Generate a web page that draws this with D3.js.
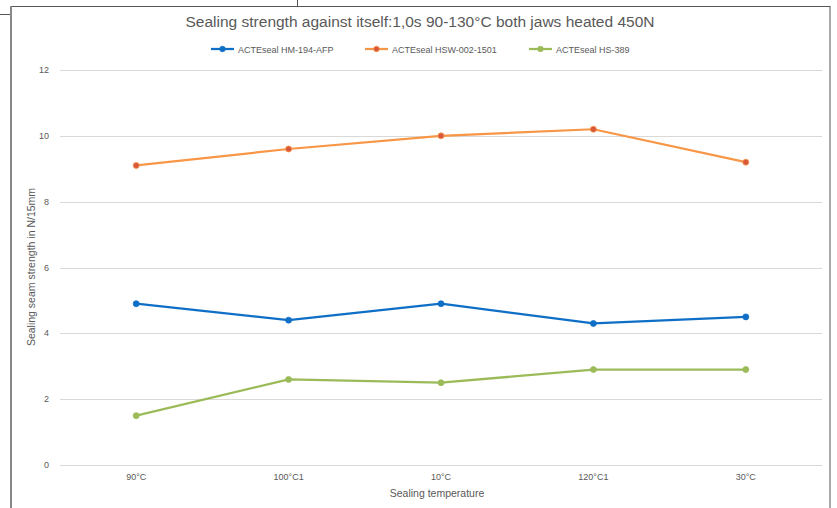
<!DOCTYPE html>
<html>
<head>
<meta charset="utf-8">
<script src="https://cdn.jsdelivr.net/npm/d3@7"></script>
<style>
  body { margin: 0; background: #fff; }
  svg { display: block; font-family: "Liberation Sans", Arial, sans-serif; }
</style>
</head>
<body>
<svg id="chart" width="837" height="508"></svg>
<script>
// Data
const categories = ["90°C", "100°C1", "10°C", "120°C1", "30°C"];
const seriesNames = ["ACTEseal HM-194-AFP", "ACTEseal HSW-002-1501", "ACTEseal HS-389"];
const hm194 = [4.9, 4.4, 4.9, 4.3, 4.5];
const hsw002 = [9.1, 9.6, 10.0, 10.2, 9.2];
const hs389 = [1.5, 2.6, 2.5, 2.9, 2.9];
const yTicks = [0, 2, 4, 6, 8, 10, 12];

const series = [
  { name: seriesNames[0], values: hm194, color: "#0F6FC6", marker: "#0F6FC6" },
  { name: seriesNames[1], values: hsw002, color: "#F79646", marker: "#D9573B" },
  { name: seriesNames[2], values: hs389, color: "#9BBB59", marker: "#9BBB59" }
];

const svg = d3.select("#chart");

// frame bits from the screenshot
svg.append("line").attr("x1", 0).attr("x2", 11).attr("y1", 14.5).attr("y2", 14.5)
  .attr("stroke", "#555").attr("stroke-width", 1);
svg.append("line").attr("x1", 297.5).attr("x2", 297.5).attr("y1", 0).attr("y2", 6)
  .attr("stroke", "#555").attr("stroke-width", 1);
svg.append("rect").attr("x", 11).attr("y", 6.5).attr("width", 819).attr("height", 520)
  .attr("fill", "#fff").attr("stroke", "#555").attr("stroke-width", 1);
svg.append("line").attr("x1", 11).attr("x2", 11).attr("y1", 6).attr("y2", 508)
  .attr("stroke", "#888").attr("stroke-width", 2);

const margin = { left: 60, right: 15, top: 70, bottom: 43 };
const x = d3.scalePoint().domain(categories).range([margin.left, 837 - margin.right]).padding(0.5);
const y = d3.scaleLinear().domain([0, 12]).range([465, 70]);

// gridlines
svg.append("g")
  .selectAll("line")
  .data(yTicks)
  .join("line")
  .attr("x1", margin.left).attr("x2", 837 - margin.right)
  .attr("y1", d => Math.round(y(d)) + 0.5).attr("y2", d => Math.round(y(d)) + 0.5)
  .attr("stroke", "#d9d9d9").attr("stroke-width", 1);

// y axis labels
svg.append("g")
  .selectAll("text")
  .data(yTicks)
  .join("text")
  .attr("x", 49).attr("y", d => y(d) + 3)
  .attr("text-anchor", "end")
  .attr("font-size", 9).attr("fill", "#595959")
  .text(d => d);

// x axis labels
svg.append("g")
  .selectAll("text")
  .data(categories)
  .join("text")
  .attr("x", d => x(d)).attr("y", 480)
  .attr("text-anchor", "middle")
  .attr("font-size", 9).attr("fill", "#595959")
  .text(d => d);

// axis titles
svg.append("text")
  .attr("x", 437).attr("y", 497)
  .attr("text-anchor", "middle").attr("font-size", 10.5).attr("fill", "#595959")
  .text("Sealing temperature");
svg.append("text")
  .attr("transform", "translate(35,267) rotate(-90)")
  .attr("text-anchor", "middle").attr("font-size", 10.5).attr("fill", "#595959")
  .text("Sealing seam strength in N/15mm");

// title
svg.append("text")
  .attr("x", 420).attr("y", 27)
  .attr("text-anchor", "middle").attr("font-size", 15.5).attr("fill", "#595959")
  .text("Sealing strength against itself:1,0s 90-130°C both jaws heated 450N");

// lines
const line = d3.line().x((d, i) => x(categories[i])).y(d => y(d));
const g = svg.append("g");
series.forEach(s => {
  g.append("path")
    .attr("d", line(s.values))
    .attr("fill", "none").attr("stroke", s.color).attr("stroke-width", 2.25)
    .attr("stroke-linejoin", "round").attr("stroke-linecap", "round");
  g.selectAll(null)
    .data(s.values)
    .join("circle")
    .attr("cx", (d, i) => x(categories[i])).attr("cy", d => y(d))
    .attr("r", 3).attr("fill", s.marker).attr("stroke", s.color).attr("stroke-width", 0.75);
});

// legend
const legendX = [211, 365, 529];
const legend = svg.append("g");
series.forEach((s, i) => {
  const lx = legendX[i];
  legend.append("line").attr("x1", lx).attr("x2", lx + 23).attr("y1", 49).attr("y2", 49)
    .attr("stroke", s.color).attr("stroke-width", 2.25);
  legend.append("circle").attr("cx", lx + 11.5).attr("cy", 49).attr("r", 2.8)
    .attr("fill", s.marker).attr("stroke", s.color).attr("stroke-width", 0.75);
  legend.append("text").attr("x", lx + 27).attr("y", 52.5)
    .attr("font-size", 9).attr("fill", "#595959").text(s.name);
});
</script>
</body>
</html>
